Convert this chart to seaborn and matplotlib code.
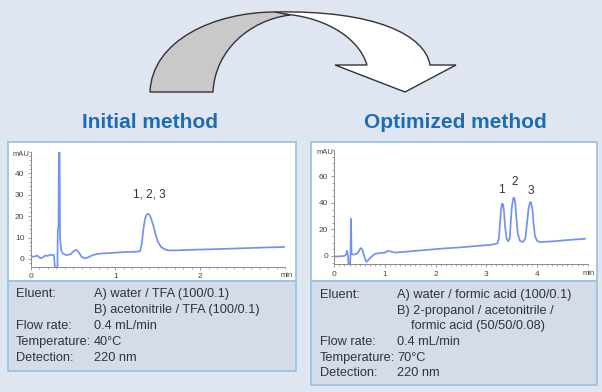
import matplotlib
matplotlib.use("Agg")
import matplotlib.pyplot as plt
import seaborn as sns
import pandas as pd
from matplotlib.patches import Rectangle, PathPatch
from matplotlib.path import Path
from matplotlib.ticker import MultipleLocator, FixedLocator

# ---- data ----
init_time = [0.00, 0.05, 0.08, 0.11, 0.14, 0.17, 0.20, 0.23, 0.26, 0.275, 0.285, 0.315,
             0.32, 0.328, 0.333, 0.340, 0.346, 0.36, 0.38, 0.42, 0.47, 0.51, 0.54, 0.57,
             0.60, 0.64, 0.68, 0.72, 0.78, 0.85, 0.95, 1.10, 1.25, 1.29, 1.31, 1.33,
             1.35, 1.37, 1.39, 1.41, 1.44, 1.47, 1.50, 1.54, 1.58, 1.63, 1.70, 1.90,
             2.20, 2.50, 2.80, 3.00]
init_mau = [1.0, 1.2, 1.6, 0.4, 0.6, 1.6, 1.4, 2.0, 1.8, 1.8, -4.0, -4.0,
            14.0, 14.5, 52.0, 52.0, 10.0, 4.0, 2.5, 1.8, 2.2, 3.8, 4.2, 3.0,
            1.0, 0.3, 0.8, 1.6, 2.3, 2.6, 2.8, 3.2, 3.4, 3.6, 7.0, 14.0,
            19.0, 20.8, 21.0, 20.0, 16.5, 12.0, 8.0, 5.5, 4.5, 4.0, 4.0, 4.3,
            4.6, 5.0, 5.4, 5.6]

opt_time = [0.00, 0.10, 0.20, 0.23, 0.25, 0.27, 0.28, 0.31, 0.32, 0.33, 0.34, 0.38,
            0.43, 0.47, 0.52, 0.55, 0.59, 0.63, 0.66, 0.72, 0.80, 0.90, 1.00, 1.05,
            1.10, 1.20, 1.50, 1.80, 2.10, 2.50, 2.80, 3.10, 3.22,
            3.25, 3.27, 3.29, 3.31, 3.33, 3.35, 3.37, 3.40, 3.43,
            3.46, 3.48, 3.50, 3.53, 3.55, 3.57, 3.59, 3.62, 3.66, 3.72,
            3.77, 3.80, 3.83, 3.86, 3.88, 3.91, 3.93, 3.96, 4.00, 4.05,
            4.30, 4.60, 4.95]
opt_mau = [-0.5, -0.3, 0.0, 1.0, 4.0, 0.0, -7.0, -7.0, 2.0, 28.0, 1.5, 1.0,
           1.5, 2.5, 6.0, 5.0, 0.0, -4.5, -3.5, -1.0, 1.5, 2.2, 2.5, 3.8,
           3.5, 2.5, 3.5, 4.5, 5.5, 6.5, 7.5, 8.5, 9.5,
           14.0, 25.0, 35.0, 39.5, 39.0, 33.0, 22.0, 13.0, 11.0,
           13.0, 24.0, 36.0, 43.5, 44.0, 40.0, 30.0, 17.0, 11.5, 10.5,
           13.0, 24.0, 35.0, 40.5, 40.5, 35.0, 25.0, 15.0, 11.5, 10.5,
           11.0, 12.0, 13.0]

init_xticks = [0, 1, 2]
init_yticks = [0, 10, 20, 30, 40]
opt_xticks = [0, 1, 2, 3, 4]
opt_yticks = [0, 20, 40, 60]

init_peak_labels = ["1, 2, 3"]
init_peak_pos = [(1.40, 30)]
opt_peak_labels = ["1", "2", "3"]
opt_peak_pos = [(3.29, 50), (3.55, 56), (3.88, 49)]

titles = ["Initial method", "Optimized method"]

init_keys = ["Eluent:", "", "Flow rate:", "Temperature:", "Detection:"]
init_vals = ["A) water / TFA (100/0.1)", "B) acetonitrile / TFA (100/0.1)",
             "0.4 mL/min", "40°C", "220 nm"]
opt_keys = ["Eluent:", "", "", "Flow rate:", "Temperature:", "Detection:"]
opt_vals = ["A) water / formic acid (100/0.1)", "B) 2-propanol / acetonitrile /",
            "    formic acid (50/50/0.08)", "0.4 mL/min", "70°C", "220 nm"]

# ---- style ----
BG = "#dfe6f1"
INFO = "#d4dcea"
BORDER = "#9fc3e1"
TRACE = "#7292f2"
TITLE = "#1d6db4"
TXT = "#333333"

sns.set_style("ticks")
plt.rcParams["font.family"] = ["Liberation Sans", "DejaVu Sans"]

fig = plt.figure(figsize=(6.02, 3.92), dpi=100)
fig.patch.set_facecolor(BG)

bg = fig.add_axes([0, 0, 1, 1])
bg.set_xlim(0, 602)
bg.set_ylim(392, 0)
bg.axis("off")

# panels
bg.add_patch(Rectangle((8, 142), 288, 139, fc="white", ec=BORDER, lw=1.3))
bg.add_patch(Rectangle((8, 281), 288, 90, fc=INFO, ec=BORDER, lw=1.3))
bg.add_patch(Rectangle((311, 142), 286, 139, fc="white", ec=BORDER, lw=1.3))
bg.add_patch(Rectangle((311, 281), 286, 104, fc=INFO, ec=BORDER, lw=1.3))

# curved arrow (twisted ribbon)
gray_part = Path(
    [(150, 92), (152, 40), (215, 12), (275, 12), (290, 15),
     (250, 20), (215, 50), (213, 92), (150, 92)],
    [Path.MOVETO, Path.CURVE4, Path.CURVE4, Path.CURVE4, Path.LINETO,
     Path.CURVE4, Path.CURVE4, Path.CURVE4, Path.CLOSEPOLY])
white_part = Path(
    [(275, 12), (375, 10), (425, 35), (430, 65), (456, 65), (405, 92),
     (335, 65), (367, 65), (358, 35), (320, 16), (282, 14), (275, 12)],
    [Path.MOVETO, Path.CURVE4, Path.CURVE4, Path.CURVE4, Path.LINETO, Path.LINETO,
     Path.LINETO, Path.LINETO, Path.CURVE4, Path.CURVE4, Path.CURVE4, Path.CLOSEPOLY])
bg.add_patch(PathPatch(white_part, fc="white", ec="#333333", lw=1.0, joinstyle="miter"))
bg.add_patch(PathPatch(gray_part, fc="#c9c9c9", ec="#333333", lw=1.0, joinstyle="miter"))

# titles
bg.text(150, 122, titles[0], ha="center", va="center", fontsize=15,
        fontweight="bold", color=TITLE)
bg.text(455, 122, titles[1], ha="center", va="center", fontsize=15,
        fontweight="bold", color=TITLE)

# info texts
for i, (k, v) in enumerate(zip(init_keys, init_vals)):
    y = 294 + i * 16
    bg.text(16, y, k, ha="left", va="center", fontsize=9.2, color=TXT)
    bg.text(94, y, v, ha="left", va="center", fontsize=9.2, color=TXT)
for i, (k, v) in enumerate(zip(opt_keys, opt_vals)):
    y = 295 + i * 15.7
    bg.text(320, y, k, ha="left", va="center", fontsize=9.2, color=TXT)
    bg.text(397, y, v, ha="left", va="center", fontsize=9.2, color=TXT)


def chromatogram(rect, t, y, xlim, ylim, xticks, yticks, ymin, labels, pos):
    ax = fig.add_axes(rect)
    ax.set_facecolor("none")
    df = pd.DataFrame({"t": t, "mAU": y})
    sns.lineplot(data=df, x="t", y="mAU", ax=ax, color=TRACE, linewidth=1.25,
                 sort=False, estimator=None)
    ax.set_xlim(*xlim)
    ax.set_ylim(*ylim)
    ax.xaxis.set_major_locator(FixedLocator(xticks))
    ax.xaxis.set_minor_locator(MultipleLocator(0.1))
    ax.yaxis.set_major_locator(FixedLocator(yticks))
    ax.yaxis.set_minor_locator(MultipleLocator(ymin))
    ax.set_xlabel("")
    ax.set_ylabel("")
    for s in ["top", "right"]:
        ax.spines[s].set_visible(False)
    for s in ["left", "bottom"]:
        ax.spines[s].set_color("#8a8a8a")
        ax.spines[s].set_linewidth(0.7)
    ax.tick_params(which="major", length=2.5, width=0.6, color="#8a8a8a",
                   labelsize=6, labelcolor="#444444", pad=2)
    ax.tick_params(which="minor", length=1.5, width=0.5, color="#8a8a8a")
    ax.annotate("mAU", xy=(0, 1), xycoords="axes fraction", xytext=(-1, -2),
                textcoords="offset points", ha="right", va="center",
                fontsize=5.5, color="#444444")
    ax.annotate("min", xy=(1, 0), xycoords="axes fraction", xytext=(1, -4),
                textcoords="offset points", ha="center", va="top",
                fontsize=5.5, color="#444444")
    for lab, (px, py) in zip(labels, pos):
        ax.text(px, py, lab, ha="center", va="center", fontsize=8.5, color=TXT)
    return ax


chromatogram([30.7 / 602, 1 - 266.7 / 392, 254.3 / 602, 115 / 392],
             init_time, init_mau, (0, 3), (-3.6, 50), init_xticks, init_yticks, 2,
             init_peak_labels, init_peak_pos)
chromatogram([334.3 / 602, 1 - 264.3 / 392, 253.4 / 602, 114.3 / 392],
             opt_time, opt_mau, (0, 5), (-6.3, 80), opt_xticks, opt_yticks, 5,
             opt_peak_labels, opt_peak_pos)

plt.savefig("out.png", dpi=100, facecolor=fig.get_facecolor())
